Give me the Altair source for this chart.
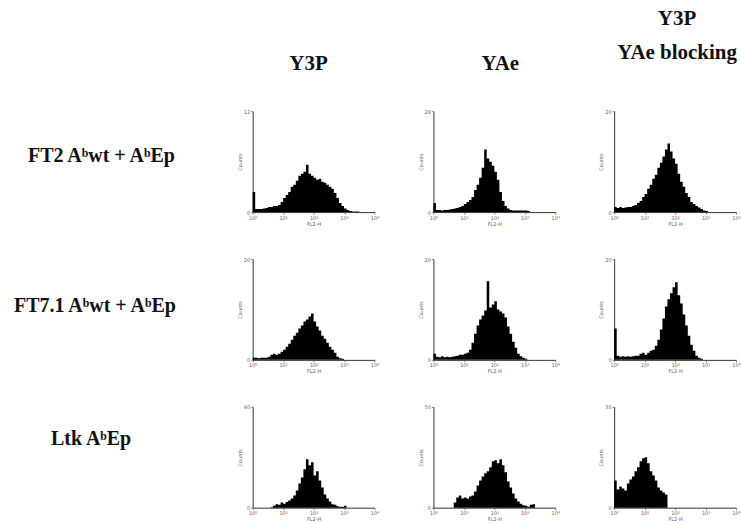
import altair as alt
import pandas as pd

# ---- data: histogram heights (% of full y scale), 12 bins per log decade, 10^0..10^4 ----
ft2_y3p = [20, 3, 3, 3, 3.5, 4, 5, 5, 6, 6,
           7, 10, 14, 17, 20, 25, 27, 31, 36, 38,
           40, 47, 38, 36, 34, 32, 33, 30, 29, 27,
           25, 23, 19, 14, 9, 6, 3.5, 2, 1, 0.5,
           0.5, 0.5, 0, 0, 0, 0, 0, 0]
ft2_yae = [9, 2, 2, 1.5, 2, 2, 2.5, 3, 3.5, 4,
           5, 6, 8, 10, 12, 15, 22, 27, 34, 44,
           62, 53, 50, 46, 40, 32, 20, 11, 6, 3.5,
           2, 1.5, 1.5, 1.5, 1.5, 1.5, 1.5, 1, 0, 0,
           0, 0, 0, 0, 0, 0, 0, 0]
ft2_block = [5, 4, 5, 4, 4.5, 5, 5, 6, 7, 9,
             11, 15, 18, 23, 27, 33, 37, 44, 49, 55,
             62, 68, 60, 53, 48, 38, 30, 25, 19, 15,
             10, 8, 6, 4.5, 3, 1.5, 1, 0, 0, 0,
             0, 0, 0, 0, 0, 0, 0, 0]
ft71_y3p = [2, 2, 1.5, 2, 2, 2, 3, 5, 6, 5,
            6, 8, 10, 13, 16, 20, 24, 27, 31, 34,
            38, 40, 43, 46, 38, 33, 29, 24, 21, 17,
            13, 10, 7, 3, 1.5, 1, 0, 0, 0, 0,
            0, 0, 0, 0, 0, 0, 0, 0]
ft71_yae = [6, 3, 2.5, 3.5, 2.5, 3, 2.5, 3, 3.5, 4,
            5, 5, 6, 7, 10, 17, 26, 34, 40, 44,
            49, 78, 52, 55, 58, 50, 48, 46, 42, 33,
            26, 18, 12, 6, 3.5, 2, 1, 0, 0, 0,
            0, 0, 0, 0, 0, 0, 0, 0]
ft71_block = [31, 4, 3, 3.5, 3, 3.5, 3, 3.5, 4, 4,
              6, 7, 5, 7, 9, 10, 14, 20, 30, 41,
              53, 60, 66, 72, 77, 64, 56, 45, 34, 24,
              15, 9, 4, 2, 1, 0, 0, 0, 0, 0,
              0, 0, 0, 0, 0, 0, 0, 0]
ltk_y3p = [0, 0, 0, 0, 0, 0, 0, 0.5, 2, 3.5,
           3, 5, 4, 5.5, 7, 9, 12, 17, 24, 30,
           38, 48, 42, 45, 32, 36, 27, 20, 13, 9,
           6, 3.5, 3, 1.5, 1, 1, 2, 0, 0, 0,
           0, 0, 0, 0, 0, 0, 0, 0]
ltk_yae = [0, 0, 0, 0, 0, 0, 0, 0, 5, 10,
           12, 9, 10, 9, 11, 12, 16, 22, 27, 31,
           34, 36, 40, 46, 47, 44, 48, 42, 35, 26,
           20, 14, 9, 6, 4, 2.5, 2, 1, 3, 3.5,
           0, 0, 0, 0, 0, 0, 0, 0]
ltk_block = [27, 18, 21, 19, 17, 24, 28, 31, 36, 40,
             46, 49, 50, 44, 36, 32, 27, 20, 17, 15,
             13, 0, 0, 0, 0, 0, 0, 0, 0, 0,
             0, 0, 0, 0, 0, 0, 0, 0, 0, 0,
             0, 0, 0, 0, 0, 0, 0, 0]

# full-scale count shown at the top of each y axis
y_max = [[12, 28, 20], [20, 20, 20], [40, 50, 30]]

row_labels = ["FT2 A\u1d47wt + A\u1d47Ep", "FT7.1 A\u1d47wt + A\u1d47Ep", "Ltk A\u1d47Ep"]
col_titles = [["Y3P"], ["YAe"], ["Y3P", "YAe blocking"]]
x_tick_labels = ["10\u2070", "10\u00b9", "10\u00b2", "10\u00b3", "10\u2074"]

series = [[ft2_y3p, ft2_yae, ft2_block],
          [ft71_y3p, ft71_yae, ft71_block],
          [ltk_y3p, ltk_yae, ltk_block]]

BINS_PER_DECADE = 12
PW, PH = 122, 101
SERIF = "Liberation Serif"
TINY = "DejaVu Sans"

axis_common = dict(domainColor="#333", domainWidth=1, tickColor="#666", tickSize=2,
                   tickWidth=0.8, labelFont=TINY, labelFontSize=5, labelColor="#666",
                   titleFont=TINY, titleFontSize=5, titleColor="#666",
                   titleFontWeight="normal", labelPadding=1, titlePadding=1, grid=False)

label_js = "[" + ",".join("'%s'" % s for s in x_tick_labels) + "][datum.value]"


def panel(vals, ymax, title=None, title_dx=0):
    df = pd.DataFrame({
        "decade": [i / BINS_PER_DECADE for i in range(len(vals))] + [len(vals) / BINS_PER_DECADE],
        "pct": list(vals) + [0],
    })
    df["count"] = df["pct"] * ymax / 100.0
    ch = alt.Chart(df).mark_area(interpolate="step-after", color="black").encode(
        x=alt.X("decade:Q", scale=alt.Scale(domain=[0, 4], nice=False, zero=False),
                axis=alt.Axis(values=[0, 1, 2, 3, 4], labelExpr=label_js, title="FL2-H",
                              labelFlush=False, **axis_common)),
        y=alt.Y("count:Q", scale=alt.Scale(domain=[0, ymax], nice=False),
                axis=alt.Axis(values=[0, ymax], title="Counts", labelFlush=False,
                              **axis_common)),
    ).properties(width=PW, height=PH)
    if title is not None:
        lines = title if len(title) > 1 else title[0]
        ch = ch.properties(title=alt.TitleParams(
            text=lines, font=SERIF, fontSize=21, fontWeight="bold", color="#111",
            anchor="middle", baseline="bottom", offset=14 if len(title) == 1 else 25,
            lineHeight=34, dx=title_dx))
    return ch


def row_label(text, x, y):
    return alt.Chart(pd.DataFrame({"label": [text]})).mark_text(
        align="left", baseline="middle", font=SERIF, fontSize=20, fontWeight="bold",
        color="#111").encode(text="label:N", x=alt.value(x), y=alt.value(y)
    ).properties(width=193, height=PH)


label_pos = [(27, 45), (13, 47), (50, 32)]
title_dx = [-5, 6, 2]

cells = []
for r in range(3):
    cells.append(row_label(row_labels[r], *label_pos[r]))
    for c in range(3):
        cells.append(panel(series[r][c], y_max[r][c],
                           title=col_titles[c] if r == 0 else None,
                           title_dx=title_dx[c]))

chart = alt.concat(*cells, columns=4, spacing={"row": 47, "column": 59},
                   bounds="flush").properties(
    padding={"left": 0, "top": 7, "right": 0, "bottom": 0},
    background="white",
).configure_view(stroke="transparent", fill="white")

chart.save("out.html", embed_options={"renderer": "svg", "actions": False})
